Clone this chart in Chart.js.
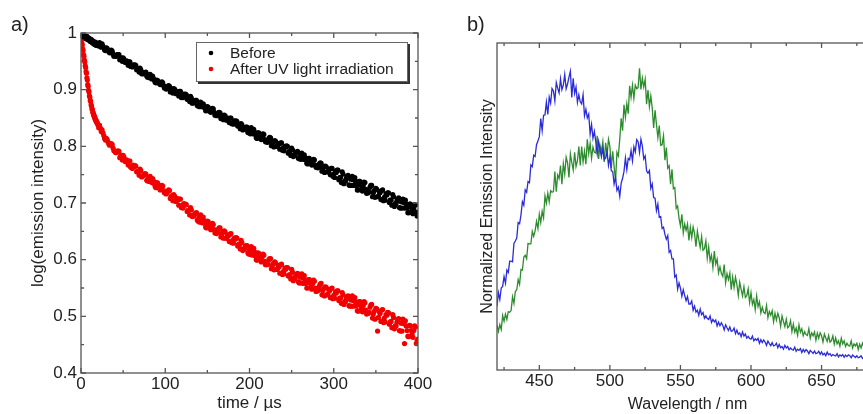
<!DOCTYPE html>
<html>
<head>
<meta charset="utf-8">
<script src="https://cdn.jsdelivr.net/npm/chart.js@4.4.1/dist/chart.umd.min.js"></script>
<style>
    html, body { margin: 0; padding: 0; background: #fff; overflow: hidden; }
    body { width: 863px; height: 414px; position: relative; }
    canvas { position: absolute; top: 0; }
    #decayChart { left: 0; }
    #spectrumChart { left: 440px; }
    .tag { position: absolute; z-index: 2; font: 20px/20px "Liberation Sans", Arial, sans-serif; color: #222; }
</style>
</head>
<body>
<canvas id="decayChart" width="440" height="414"></canvas>
<canvas id="spectrumChart" width="440" height="414"></canvas>
<div class="tag" style="left:11px; top:14px">a)</div>
<div class="tag" style="left:467px; top:14px">b)</div>
<script>
// ---- a) luminescence decay ----
// sampling grid in µs: 0.5 µs steps up to 20 µs, then 1 µs steps
const times = [];
for (let t = 0; t <= 20; t += 0.5) times.push(t);
for (let t = 21; t <= 400; t++) times.push(t);

const before = [
    1.000, 0.997, 0.999, 0.995, 0.998, 0.994, 0.996, 0.997, 0.993, 0.995,
    0.991, 0.994, 0.990, 0.993, 0.994, 0.989, 0.992, 0.988, 0.990, 0.991,
    0.987, 0.989, 0.985, 0.988, 0.989, 0.984, 0.986, 0.983, 0.986, 0.984,
    0.981, 0.984, 0.980, 0.983, 0.984, 0.979, 0.982, 0.978, 0.980, 0.981,
    0.978,
    0.977, 0.983, 0.980, 0.975, 0.981, 0.977, 0.974, 0.970, 0.969, 0.974, 0.973, 0.970, 0.967, 0.965, 0.968, 0.970, 0.968, 0.963, 0.959, 0.960,
    0.959, 0.959, 0.962, 0.962, 0.962, 0.953, 0.955, 0.956, 0.950, 0.956, 0.954, 0.949, 0.948, 0.951, 0.949, 0.943, 0.949, 0.949, 0.941, 0.943,
    0.940, 0.944, 0.943, 0.944, 0.943, 0.935, 0.936, 0.935, 0.931, 0.938, 0.935, 0.928, 0.929, 0.928, 0.930, 0.930, 0.931, 0.924, 0.922, 0.926,
    0.921, 0.927, 0.924, 0.919, 0.924, 0.920, 0.917, 0.913, 0.912, 0.917, 0.916, 0.913, 0.911, 0.909, 0.912, 0.914, 0.912, 0.907, 0.903, 0.904,
    0.901, 0.902, 0.906, 0.907, 0.906, 0.896, 0.899, 0.901, 0.894, 0.902, 0.901, 0.894, 0.893, 0.897, 0.895, 0.889, 0.897, 0.897, 0.886, 0.889,
    0.886, 0.892, 0.890, 0.892, 0.891, 0.883, 0.883, 0.883, 0.879, 0.888, 0.885, 0.876, 0.877, 0.877, 0.880, 0.881, 0.881, 0.872, 0.871, 0.877,
    0.870, 0.878, 0.875, 0.870, 0.875, 0.872, 0.867, 0.863, 0.863, 0.870, 0.869, 0.866, 0.862, 0.860, 0.864, 0.867, 0.866, 0.860, 0.855, 0.856,
    0.854, 0.855, 0.859, 0.860, 0.859, 0.849, 0.852, 0.854, 0.847, 0.855, 0.854, 0.847, 0.846, 0.850, 0.848, 0.842, 0.850, 0.850, 0.840, 0.842,
    0.839, 0.845, 0.843, 0.845, 0.844, 0.836, 0.836, 0.836, 0.831, 0.840, 0.838, 0.829, 0.830, 0.830, 0.833, 0.834, 0.834, 0.825, 0.824, 0.830,
    0.822, 0.833, 0.829, 0.822, 0.830, 0.825, 0.821, 0.815, 0.814, 0.824, 0.824, 0.820, 0.815, 0.812, 0.818, 0.822, 0.821, 0.812, 0.808, 0.809,
    0.807, 0.808, 0.814, 0.816, 0.815, 0.801, 0.806, 0.809, 0.799, 0.810, 0.809, 0.800, 0.800, 0.805, 0.804, 0.795, 0.806, 0.806, 0.793, 0.797,
    0.792, 0.800, 0.799, 0.801, 0.800, 0.788, 0.791, 0.791, 0.784, 0.797, 0.794, 0.782, 0.785, 0.784, 0.789, 0.790, 0.791, 0.779, 0.778, 0.785,
    0.777, 0.788, 0.784, 0.777, 0.785, 0.780, 0.776, 0.770, 0.769, 0.779, 0.779, 0.775, 0.770, 0.767, 0.774, 0.777, 0.776, 0.767, 0.763, 0.764,
    0.762, 0.763, 0.769, 0.771, 0.770, 0.756, 0.761, 0.764, 0.754, 0.765, 0.764, 0.755, 0.755, 0.760, 0.759, 0.750, 0.761, 0.761, 0.747, 0.751,
    0.745, 0.756, 0.754, 0.758, 0.758, 0.741, 0.745, 0.745, 0.736, 0.755, 0.751, 0.734, 0.739, 0.739, 0.744, 0.747, 0.749, 0.732, 0.731, 0.742,
    0.731, 0.747, 0.741, 0.731, 0.745, 0.738, 0.731, 0.723, 0.723, 0.738, 0.738, 0.732, 0.725, 0.721, 0.731, 0.737, 0.736, 0.724, 0.717, 0.719,
    0.718, 0.720, 0.728, 0.731, 0.731, 0.711, 0.718, 0.722, 0.710, 0.726, 0.724, 0.711, 0.712, 0.720, 0.718, 0.706, 0.722, 0.723, 0.704, 0.710,
    0.705, 0.716, 0.714, 0.718, 0.718, 0.701, 0.705, 0.705, 0.696, 0.715, 0.711, 0.694, 0.699, 0.699, 0.704, 0.707, 0.709, 0.692, 0.691, 0.702,
    0.691, 0.707, 0.701, 0.691, 0.705, 0.698, 0.691, 0.683, 0.683, 0.698, 0.698, 0.692, 0.685, 0.681, 0.691, 0.697, 0.696, 0.684, 0.677, 0.679
];

const afterUV = [
    0.992, 0.989, 0.982, 0.979, 0.972, 0.969, 0.962, 0.959, 0.952, 0.949,
    0.942, 0.939, 0.932, 0.929, 0.921, 0.917, 0.909, 0.906, 0.899, 0.896,
    0.889, 0.887, 0.881, 0.879, 0.873, 0.871, 0.866, 0.865, 0.860, 0.859,
    0.855, 0.855, 0.851, 0.851, 0.847, 0.847, 0.844, 0.844, 0.841, 0.841,
    0.838,
    0.833, 0.837, 0.832, 0.826, 0.829, 0.824, 0.819, 0.814, 0.811, 0.814, 0.812, 0.808, 0.804, 0.802, 0.804, 0.805, 0.803, 0.797, 0.792, 0.792,
    0.789, 0.789, 0.791, 0.792, 0.791, 0.780, 0.783, 0.784, 0.776, 0.784, 0.781, 0.774, 0.773, 0.776, 0.773, 0.767, 0.774, 0.774, 0.763, 0.765,
    0.761, 0.767, 0.764, 0.766, 0.765, 0.755, 0.756, 0.756, 0.749, 0.760, 0.757, 0.746, 0.748, 0.748, 0.750, 0.752, 0.751, 0.740, 0.739, 0.745,
    0.738, 0.747, 0.742, 0.736, 0.743, 0.739, 0.734, 0.729, 0.727, 0.736, 0.735, 0.731, 0.726, 0.723, 0.728, 0.731, 0.730, 0.722, 0.718, 0.718,
    0.716, 0.717, 0.721, 0.723, 0.722, 0.708, 0.711, 0.713, 0.704, 0.715, 0.712, 0.703, 0.703, 0.708, 0.705, 0.696, 0.707, 0.707, 0.692, 0.696,
    0.691, 0.699, 0.696, 0.698, 0.697, 0.685, 0.687, 0.687, 0.679, 0.692, 0.688, 0.676, 0.678, 0.677, 0.681, 0.682, 0.683, 0.670, 0.668, 0.675,
    0.666, 0.679, 0.673, 0.665, 0.675, 0.669, 0.664, 0.657, 0.656, 0.668, 0.667, 0.662, 0.656, 0.653, 0.660, 0.664, 0.662, 0.653, 0.647, 0.648,
    0.646, 0.648, 0.654, 0.656, 0.656, 0.640, 0.645, 0.648, 0.638, 0.651, 0.649, 0.638, 0.638, 0.644, 0.642, 0.632, 0.645, 0.646, 0.630, 0.634,
    0.629, 0.638, 0.636, 0.639, 0.638, 0.624, 0.627, 0.626, 0.619, 0.634, 0.630, 0.616, 0.619, 0.619, 0.623, 0.625, 0.625, 0.612, 0.610, 0.618,
    0.609, 0.623, 0.617, 0.608, 0.620, 0.614, 0.607, 0.600, 0.599, 0.612, 0.611, 0.606, 0.600, 0.596, 0.605, 0.610, 0.608, 0.597, 0.591, 0.593,
    0.591, 0.592, 0.600, 0.602, 0.602, 0.584, 0.589, 0.593, 0.582, 0.596, 0.594, 0.583, 0.583, 0.590, 0.587, 0.576, 0.591, 0.592, 0.574, 0.579,
    0.575, 0.585, 0.583, 0.586, 0.586, 0.571, 0.573, 0.573, 0.566, 0.583, 0.578, 0.563, 0.568, 0.567, 0.572, 0.574, 0.576, 0.561, 0.559, 0.569,
    0.559, 0.575, 0.568, 0.558, 0.572, 0.565, 0.558, 0.550, 0.550, 0.565, 0.565, 0.559, 0.552, 0.548, 0.558, 0.564, 0.562, 0.550, 0.544, 0.546,
    0.545, 0.547, 0.554, 0.557, 0.558, 0.538, 0.545, 0.549, 0.536, 0.552, 0.551, 0.538, 0.539, 0.547, 0.545, 0.533, 0.549, 0.550, 0.531, 0.537,
    0.532, 0.543, 0.541, 0.545, 0.545, 0.528, 0.532, 0.532, 0.523, 0.542, 0.538, 0.521, 0.526, 0.526, 0.532, 0.535, 0.536, 0.519, 0.518, 0.529,
    0.518, 0.536, 0.528, 0.518, 0.533, 0.525, 0.519, 0.510, 0.509, 0.526, 0.526, 0.519, 0.513, 0.508, 0.519, 0.526, 0.524, 0.511, 0.504, 0.506,
    0.505, 0.507, 0.516, 0.520, 0.521, 0.497, 0.504, 0.509, 0.495, 0.514, 0.513, 0.474, 0.498, 0.508, 0.505, 0.491, 0.511, 0.512, 0.489, 0.497,
    0.490, 0.503, 0.502, 0.507, 0.506, 0.486, 0.490, 0.491, 0.480, 0.503, 0.498, 0.478, 0.483, 0.483, 0.490, 0.494, 0.496, 0.475, 0.474, 0.488,
    0.474, 0.495, 0.487, 0.452, 0.492, 0.483, 0.475, 0.465, 0.464, 0.484, 0.483, 0.475, 0.468, 0.463, 0.475, 0.483, 0.481, 0.452, 0.457, 0.460
];

const timeTicks = [0, 100, 200, 300, 400];
const timeMinor = [50, 150, 250, 350];
const logTicks = [0.4, 0.5, 0.6, 0.7, 0.8, 0.9, 1];
const logMinor = [0.45, 0.55, 0.65, 0.75, 0.85, 0.95];

// ---- b) emission spectra, 1 nm steps from 420 nm ----
const wavelengths = [];
for (let w = 420; w <= 680; w++) wavelengths.push(w);

const spectrumBlue = [
    0.215, 0.260, 0.237, 0.276, 0.281, 0.314, 0.292, 0.336, 0.328, 0.366,
    0.366, 0.364, 0.426, 0.434, 0.444, 0.496, 0.492, 0.522, 0.566, 0.554,
    0.606, 0.598, 0.634, 0.630, 0.690, 0.684, 0.722, 0.718, 0.758, 0.770,
    0.785, 0.846, 0.805, 0.857, 0.858, 0.901, 0.860, 0.918, 0.898, 0.947,
    0.939, 0.905, 0.967, 0.948, 0.932, 0.979, 0.943, 0.958, 0.994, 0.946,
    0.962, 0.985, 1.005, 0.917, 0.981, 0.930, 0.952, 0.900, 0.926, 0.902,
    0.895, 0.926, 0.855, 0.877, 0.848, 0.861, 0.794, 0.826, 0.780, 0.803,
    0.768, 0.728, 0.769, 0.742, 0.717, 0.745, 0.708, 0.713, 0.735, 0.688,
    0.716, 0.670, 0.668, 0.626, 0.648, 0.604, 0.615, 0.584, 0.629, 0.645,
    0.668, 0.713, 0.674, 0.712, 0.707, 0.738, 0.703, 0.751, 0.734, 0.775,
    0.768, 0.732, 0.776, 0.753, 0.710, 0.720, 0.670, 0.662, 0.671, 0.611,
    0.626, 0.580, 0.578, 0.536, 0.558, 0.514, 0.516, 0.476, 0.480, 0.456,
    0.440, 0.452, 0.396, 0.402, 0.374, 0.374, 0.313, 0.319, 0.272, 0.293,
    0.275, 0.248, 0.270, 0.251, 0.233, 0.247, 0.222, 0.222, 0.232, 0.201,
    0.215, 0.195, 0.201, 0.184, 0.205, 0.186, 0.193, 0.174, 0.182, 0.173,
    0.170, 0.182, 0.160, 0.170, 0.162, 0.168, 0.148, 0.161, 0.149, 0.159,
    0.150, 0.135, 0.152, 0.142, 0.133, 0.145, 0.130, 0.132, 0.141, 0.122,
    0.134, 0.120, 0.125, 0.112, 0.128, 0.114, 0.121, 0.107, 0.113, 0.106,
    0.104, 0.114, 0.098, 0.105, 0.100, 0.106, 0.090, 0.102, 0.092, 0.101,
    0.094, 0.083, 0.097, 0.089, 0.082, 0.092, 0.081, 0.083, 0.090, 0.075,
    0.086, 0.075, 0.079, 0.070, 0.083, 0.074, 0.079, 0.068, 0.074, 0.069,
    0.067, 0.077, 0.063, 0.070, 0.066, 0.072, 0.059, 0.069, 0.061, 0.069,
    0.064, 0.055, 0.066, 0.061, 0.056, 0.064, 0.055, 0.057, 0.063, 0.053,
    0.061, 0.051, 0.056, 0.048, 0.060, 0.051, 0.055, 0.047, 0.052, 0.049,
    0.047, 0.055, 0.044, 0.051, 0.047, 0.052, 0.043, 0.050, 0.045, 0.051,
    0.048, 0.041, 0.050, 0.046, 0.042, 0.048, 0.041, 0.043, 0.048, 0.039,
    0.043
];

const spectrumGreen = [
    0.151, 0.130, 0.153, 0.136, 0.183, 0.164, 0.188, 0.170, 0.196, 0.194,
    0.200, 0.246, 0.224, 0.264, 0.270, 0.304, 0.288, 0.338, 0.336, 0.380,
    0.386, 0.374, 0.426, 0.424, 0.424, 0.466, 0.450, 0.468, 0.500, 0.476,
    0.524, 0.496, 0.534, 0.512, 0.586, 0.561, 0.595, 0.566, 0.603, 0.598,
    0.600, 0.668, 0.600, 0.656, 0.644, 0.688, 0.625, 0.694, 0.659, 0.716,
    0.697, 0.648, 0.727, 0.698, 0.673, 0.732, 0.684, 0.704, 0.752, 0.688,
    0.752, 0.700, 0.736, 0.692, 0.776, 0.728, 0.762, 0.712, 0.750, 0.732,
    0.730, 0.788, 0.710, 0.756, 0.734, 0.768, 0.700, 0.764, 0.724, 0.776,
    0.752, 0.680, 0.736, 0.684, 0.636, 0.732, 0.720, 0.776, 0.847, 0.805,
    0.892, 0.850, 0.896, 0.862, 0.956, 0.918, 0.958, 0.914, 0.958, 0.946,
    0.950, 1.015, 0.944, 0.982, 0.952, 0.978, 0.894, 0.942, 0.886, 0.922,
    0.882, 0.814, 0.874, 0.826, 0.782, 0.822, 0.756, 0.758, 0.788, 0.706,
    0.748, 0.679, 0.687, 0.625, 0.675, 0.610, 0.614, 0.544, 0.552, 0.510,
    0.485, 0.524, 0.461, 0.491, 0.470, 0.491, 0.436, 0.480, 0.446, 0.481,
    0.459, 0.415, 0.467, 0.438, 0.412, 0.449, 0.403, 0.408, 0.434, 0.376,
    0.414, 0.367, 0.386, 0.345, 0.400, 0.356, 0.373, 0.327, 0.347, 0.325,
    0.315, 0.355, 0.293, 0.324, 0.304, 0.326, 0.270, 0.313, 0.278, 0.312,
    0.288, 0.251, 0.295, 0.271, 0.249, 0.280, 0.244, 0.250, 0.273, 0.227,
    0.260, 0.221, 0.237, 0.203, 0.249, 0.213, 0.229, 0.192, 0.211, 0.194,
    0.190, 0.217, 0.176, 0.197, 0.184, 0.199, 0.162, 0.191, 0.168, 0.191,
    0.176, 0.147, 0.182, 0.163, 0.146, 0.171, 0.142, 0.147, 0.166, 0.129,
    0.154, 0.127, 0.141, 0.117, 0.152, 0.127, 0.139, 0.115, 0.129, 0.119,
    0.116, 0.139, 0.107, 0.125, 0.115, 0.128, 0.100, 0.124, 0.107, 0.125,
    0.115, 0.094, 0.121, 0.108, 0.096, 0.116, 0.094, 0.099, 0.115, 0.087,
    0.108, 0.088, 0.098, 0.080, 0.107, 0.088, 0.098, 0.079, 0.090, 0.082,
    0.081, 0.098, 0.074, 0.088, 0.081, 0.090, 0.069, 0.087, 0.074, 0.090,
    0.078
];

const wavelengthTicks = [450, 500, 550, 600, 650];
const wavelengthMinor = [425, 475, 525, 575, 625, 675];

const FONT = '"Liberation Sans", Arial, sans-serif';
const TEXT = '#222';

Chart.defaults.font.family = FONT;
Chart.defaults.color = TEXT;

// closed frame with inward tick marks on every side
const frameTicks = {
    id: 'frameTicks',
    afterDatasetsDraw(chart, args, opts) {
        const { ctx, chartArea: { left, right, top, bottom }, scales: { x, y } } = chart;
        ctx.save();
        ctx.strokeStyle = '#555';
        ctx.lineWidth = 1.3;
        ctx.strokeRect(left, top, right - left, bottom - top);
        ctx.beginPath();
        const mark = (scale, values, len) => {
            (values || []).forEach(v => {
                const p = scale.getPixelForValue(v);
                if (scale.isHorizontal()) {
                    ctx.moveTo(p, bottom); ctx.lineTo(p, bottom - len);
                    ctx.moveTo(p, top); ctx.lineTo(p, top + len);
                } else {
                    ctx.moveTo(left, p); ctx.lineTo(left + len, p);
                    ctx.moveTo(right, p); ctx.lineTo(right - len, p);
                }
            });
        };
        mark(x, opts.xMajor, 5);
        mark(x, opts.xMinor, 3);
        mark(y, opts.yMajor, 5);
        mark(y, opts.yMinor, 3);
        ctx.stroke();
        ctx.restore();
    }
};

// boxed legend with a drop shadow in the top right corner of the plot
const boxLegend = {
    id: 'boxLegend',
    afterDraw(chart) {
        const { ctx, chartArea } = chart;
        const w = 212, h = 40;
        const x0 = chartArea.right - 10 - w;
        const y0 = chartArea.top + 9;
        ctx.save();
        ctx.fillStyle = '#333';
        ctx.fillRect(x0 + 2, y0 + 2, w, h);
        ctx.fillStyle = '#fff';
        ctx.fillRect(x0, y0, w, h);
        ctx.strokeStyle = '#666';
        ctx.lineWidth = 1;
        ctx.strokeRect(x0 + 0.5, y0 + 0.5, w - 1, h - 1);
        ctx.font = '15.5px ' + FONT;
        ctx.textBaseline = 'middle';
        chart.data.datasets.forEach((ds, i) => {
            const cy = y0 + 11 + i * 16;
            ctx.fillStyle = ds.backgroundColor;
            ctx.beginPath();
            ctx.arc(x0 + 15, cy, 2.3, 0, Math.PI * 2);
            ctx.fill();
            ctx.fillStyle = TEXT;
            ctx.fillText(ds.label, x0 + 34, cy + 1);
        });
        ctx.restore();
    }
};

function toPoints(xs, ys) {
    return xs.map((x, i) => ({ x: x, y: ys[i] }));
}

function setTicks(values) {
    return scale => { scale.ticks = values.map(v => ({ value: v })); };
}

new Chart(document.getElementById('decayChart'), {
    type: 'scatter',
    data: {
        datasets: [{
            label: 'Before',
            data: toPoints(times, before),
            backgroundColor: '#000',
            pointRadius: 2.6,
            borderWidth: 0
        }, {
            label: 'After UV light irradiation',
            data: toPoints(times, afterUV),
            backgroundColor: '#f00000',
            pointRadius: 2.6,
            borderWidth: 0
        }]
    },
    options: {
        responsive: false,
        animation: false,
        devicePixelRatio: 1,
        layout: { padding: { left: 0, top: 33, right: 22, bottom: 0 } },
        scales: {
            x: {
                type: 'linear',
                min: 0,
                max: 400,
                afterBuildTicks: setTicks(timeTicks),
                afterFit: s => { s.height = 41; },
                grid: { display: false, drawTicks: false },
                border: { display: false },
                ticks: { font: { size: 17 }, padding: 1, maxRotation: 0 },
                title: { display: true, text: 'time / µs', font: { size: 17 }, padding: { top: 0, bottom: 0 } }
            },
            y: {
                min: 0.4,
                max: 1,
                afterBuildTicks: setTicks(logTicks),
                afterFit: s => { s.width = 81; },
                grid: { display: false, drawTicks: false },
                border: { display: false },
                ticks: {
                    font: { size: 17 },
                    padding: 4,
                    callback: v => (v === 1 ? '1' : v.toFixed(1))
                },
                title: { display: true, text: 'log(emission intensity)', font: { size: 17 }, padding: { top: 28, bottom: 0 } }
            }
        },
        plugins: {
            legend: { display: false },
            tooltip: { enabled: false },
            frameTicks: { xMajor: timeTicks, xMinor: timeMinor, yMajor: logTicks, yMinor: logMinor }
        }
    },
    plugins: [frameTicks, boxLegend]
});

new Chart(document.getElementById('spectrumChart'), {
    type: 'line',
    data: {
        datasets: [{
            label: 'blue',
            data: toPoints(wavelengths, spectrumBlue),
            borderColor: '#2b2bd9',
            borderWidth: 1.3,
            pointRadius: 0,
            tension: 0
        }, {
            label: 'green',
            data: toPoints(wavelengths, spectrumGreen),
            borderColor: '#2d8c2d',
            borderWidth: 1.3,
            pointRadius: 0,
            tension: 0
        }]
    },
    options: {
        responsive: false,
        animation: false,
        devicePixelRatio: 1,
        layout: { padding: { left: 0, top: 43, right: 2, bottom: 0 } },
        scales: {
            x: {
                type: 'linear',
                min: 420,
                max: 690,
                afterBuildTicks: setTicks(wavelengthTicks),
                afterFit: s => { s.height = 44; },
                grid: { display: false, drawTicks: false },
                border: { display: false },
                ticks: { font: { size: 17 }, padding: 1, maxRotation: 0 },
                title: { display: true, text: 'Wavelength / nm', font: { size: 16 }, padding: { top: 0, bottom: 0 } }
            },
            y: {
                min: 0,
                max: 1.1,
                afterFit: s => { s.width = 57; },
                grid: { display: false, drawTicks: false },
                border: { display: false },
                ticks: { display: false },
                title: { display: true, text: 'Normalized Emission Intensity', font: { size: 16 }, padding: { top: 38, bottom: 0 } }
            }
        },
        plugins: {
            legend: { display: false },
            tooltip: { enabled: false },
            frameTicks: { xMajor: wavelengthTicks, xMinor: wavelengthMinor }
        }
    },
    plugins: [frameTicks]
});
</script>
</body>
</html>
